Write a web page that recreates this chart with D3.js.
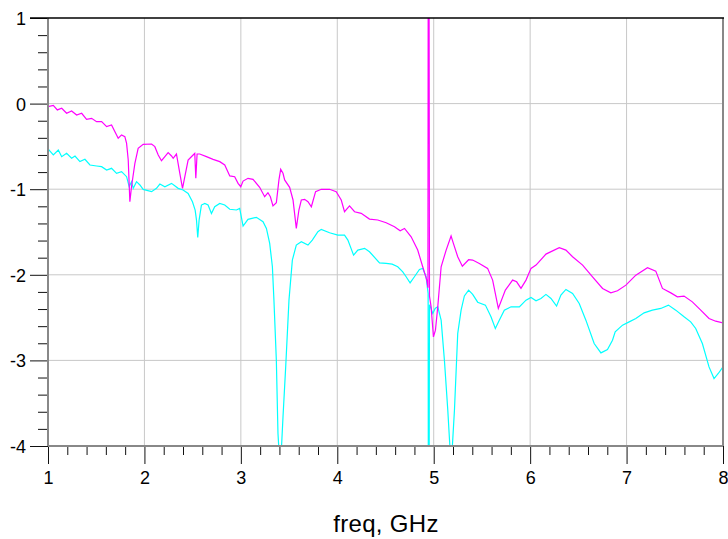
<!DOCTYPE html>
<html><head><meta charset="utf-8">
<script src="https://cdn.jsdelivr.net/npm/d3@7"></script>
<style>body{margin:0;background:#fff}svg{display:block}</style>
</head><body>
<svg id="chart" width="728" height="539"></svg>
<script>
const xTicks = [1,2,3,4,5,6,7,8];
const yTicks = [1,0,-1,-2,-3,-4];
const xLabel = "freq, GHz";

const magFreq = [1.000,1.055,1.097,1.142,1.193,1.245,1.297,1.349,1.400,1.452,1.504,1.556,1.608,1.659,1.728,1.763,1.797,1.815,1.832,1.849,1.866,1.901,1.935,1.987,2.074,2.108,2.143,2.177,2.212,2.246,2.281,2.298,2.332,2.367,2.395,2.419,2.453,2.505,2.522,2.533,2.546,2.574,2.643,2.712,2.781,2.833,2.885,2.936,2.971,2.999,3.023,3.074,3.126,3.195,3.247,3.281,3.306,3.333,3.368,3.395,3.413,3.437,3.454,3.506,3.541,3.575,3.602,3.627,3.661,3.696,3.731,3.775,3.834,3.920,3.989,4.041,4.075,4.127,4.179,4.248,4.334,4.420,4.507,4.593,4.652,4.697,4.766,4.834,4.886,4.928,4.940,4.944,4.950,4.956,4.973,4.997,5.018,5.042,5.077,5.129,5.180,5.204,5.249,5.297,5.362,5.404,5.473,5.559,5.611,5.670,5.743,5.818,5.860,5.905,5.957,6.009,6.061,6.164,6.302,6.371,6.440,6.544,6.647,6.751,6.837,6.906,6.993,7.096,7.217,7.303,7.372,7.459,7.527,7.596,7.682,7.769,7.855,7.924,8.000];
const magVal = [-0.035,-0.02,-0.074,-0.055,-0.113,-0.086,-0.133,-0.113,-0.183,-0.172,-0.211,-0.211,-0.269,-0.25,-0.405,-0.366,-0.386,-0.464,-0.659,-1.146,-0.971,-0.698,-0.522,-0.476,-0.472,-0.503,-0.600,-0.667,-0.620,-0.573,-0.612,-0.639,-0.589,-0.815,-0.990,-0.854,-0.659,-0.600,-0.581,-0.873,-0.589,-0.589,-0.620,-0.651,-0.678,-0.717,-0.845,-0.854,-0.932,-0.971,-0.905,-0.873,-0.885,-0.978,-1.088,-1.041,-1.088,-1.196,-1.158,-0.892,-0.768,-0.814,-0.892,-0.978,-1.126,-1.458,-1.243,-1.126,-1.118,-1.146,-1.205,-1.029,-1.001,-1.001,-1.029,-1.126,-1.263,-1.196,-1.263,-1.282,-1.349,-1.360,-1.392,-1.439,-1.485,-1.458,-1.556,-1.711,-1.906,-2.062,-2.15,3.0,3.0,-2.25,-2.374,-2.725,-2.647,-2.374,-1.906,-1.711,-1.547,-1.633,-1.789,-1.900,-1.824,-1.828,-1.867,-1.925,-2.062,-2.393,-2.179,-2.062,-2.082,-2.159,-2.062,-1.925,-1.887,-1.758,-1.684,-1.711,-1.789,-1.887,-2.023,-2.159,-2.211,-2.187,-2.121,-2.004,-1.918,-1.957,-2.159,-2.211,-2.257,-2.249,-2.316,-2.413,-2.510,-2.542,-2.561];

const cyanFreq = [1.000,1.055,1.107,1.142,1.193,1.245,1.280,1.331,1.383,1.435,1.504,1.556,1.608,1.659,1.711,1.763,1.815,1.842,1.866,1.884,1.918,1.953,1.987,2.074,2.125,2.160,2.212,2.281,2.350,2.401,2.453,2.498,2.526,2.540,2.553,2.567,2.591,2.626,2.660,2.695,2.729,2.781,2.833,2.885,2.954,2.988,3.023,3.074,3.161,3.230,3.265,3.299,3.327,3.343,3.368,3.385,3.395,3.420,3.437,3.465,3.499,3.534,3.575,3.627,3.696,3.741,3.799,3.834,3.920,4.006,4.075,4.110,4.169,4.213,4.283,4.334,4.438,4.507,4.569,4.627,4.679,4.714,4.755,4.800,4.852,4.886,4.921,4.942,4.946,4.950,4.956,4.966,4.990,5.015,5.042,5.077,5.111,5.146,5.170,5.191,5.215,5.249,5.284,5.318,5.362,5.404,5.456,5.536,5.594,5.639,5.680,5.732,5.802,5.888,5.957,6.009,6.061,6.112,6.164,6.216,6.274,6.319,6.371,6.440,6.509,6.578,6.664,6.734,6.802,6.854,6.882,6.958,7.027,7.096,7.182,7.268,7.355,7.434,7.510,7.596,7.665,7.717,7.786,7.855,7.907,7.951,8.000];
const cyanVal = [-0.530,-0.600,-0.542,-0.620,-0.581,-0.639,-0.612,-0.678,-0.651,-0.717,-0.729,-0.737,-0.776,-0.756,-0.815,-0.795,-0.854,-0.971,-0.912,-0.990,-0.912,-0.951,-1.002,-1.029,-0.990,-0.940,-0.971,-0.932,-0.990,-1.010,-1.049,-1.146,-1.244,-1.361,-1.563,-1.361,-1.185,-1.166,-1.185,-1.283,-1.205,-1.166,-1.185,-1.234,-1.243,-1.224,-1.430,-1.352,-1.329,-1.380,-1.458,-1.633,-1.906,-2.296,-2.998,-3.855,-4.05,-4.05,-3.661,-3.076,-2.296,-1.828,-1.653,-1.614,-1.653,-1.594,-1.497,-1.469,-1.509,-1.536,-1.536,-1.594,-1.770,-1.711,-1.691,-1.731,-1.860,-1.867,-1.875,-1.906,-1.965,-2.023,-2.094,-2.023,-1.937,-1.925,-2.023,-2.218,-6,-6,-2.35,-2.374,-2.452,-2.393,-2.374,-2.530,-2.998,-3.583,-4.05,-4.05,-3.583,-2.686,-2.413,-2.247,-2.179,-2.228,-2.320,-2.354,-2.491,-2.627,-2.530,-2.413,-2.374,-2.374,-2.296,-2.264,-2.304,-2.276,-2.229,-2.276,-2.366,-2.237,-2.171,-2.218,-2.335,-2.530,-2.803,-2.912,-2.873,-2.764,-2.667,-2.588,-2.550,-2.510,-2.444,-2.413,-2.393,-2.354,-2.413,-2.491,-2.550,-2.627,-2.803,-3.076,-3.212,-3.153,-3.076];

const L = 48, R = 723, T = 18, B = 446;
const x = d3.scaleLinear().domain([1,8]).range([L,R]);
const y = d3.scaleLinear().domain([-4,1]).range([B,T]);
const svg = d3.select("#chart");
const font = "'Liberation Sans', Arial, sans-serif";
const fmt = d => String(d);

svg.append("defs").append("clipPath").attr("id","plotclip")
  .append("rect").attr("x",L).attr("y",T).attr("width",R-L).attr("height",B-T);

// grid
const g = svg.append("g");
g.selectAll("line.gx").data(xTicks.filter(d=>d>1&&d<8)).enter().append("line")
  .attr("x1",d=>x(d)).attr("x2",d=>x(d)).attr("y1",T).attr("y2",B)
  .attr("stroke","#c8c8c8").attr("stroke-width",1);
g.selectAll("line.gy").data(yTicks.filter(d=>d>-4&&d<1)).enter().append("line")
  .attr("x1",L).attr("x2",R).attr("y1",d=>y(d)).attr("y2",d=>y(d))
  .attr("stroke","#c8c8c8").attr("stroke-width",1);

const xMinor = d3.range(1,8.001,0.2).filter(v=>Math.abs(v-Math.round(v))>1e-6);
const yMinor = d3.range(-4,1.001,0.2).filter(v=>Math.abs(v-Math.round(v))>1e-6);

const xAxis = svg.append("g").attr("transform",`translate(0,${B})`)
  .call(d3.axisBottom(x).tickValues(xTicks).tickSize(18).tickFormat(fmt));
const xAxisMinor = svg.append("g").attr("transform",`translate(0,${B})`)
  .call(d3.axisBottom(x).tickValues(xMinor).tickSize(9).tickFormat(""));
const yAxis = svg.append("g").attr("transform",`translate(${L},0)`)
  .call(d3.axisLeft(y).tickValues(yTicks).tickSize(18).tickFormat(fmt));
const yAxisMinor = svg.append("g").attr("transform",`translate(${L},0)`)
  .call(d3.axisLeft(y).tickValues(yMinor).tickSize(10).tickFormat(""));

[xAxis,xAxisMinor,yAxis,yAxisMinor].forEach(a=>{
  a.attr("font-size",null).attr("font-family",null);
  a.select(".domain").remove();
  a.selectAll(".tick line").attr("stroke","#111").attr("stroke-width",1);
  a.selectAll("text").attr("fill","#000").style("font-family",font).style("font-size","18px");
});
xAxis.selectAll("text").attr("y",38).attr("dy",null);
yAxis.selectAll("text").attr("x",-22).attr("dy","0.36em");

// series
const mag = magFreq.map((f,i)=>[f,magVal[i]]);
const cyan = cyanFreq.map((f,i)=>[f,cyanVal[i]]);
const line = d3.line().x(d=>x(d[0])).y(d=>y(d[1]));
const plot = svg.append("g").attr("clip-path","url(#plotclip)");
plot.append("path").datum(cyan).attr("d",line).attr("fill","none")
  .attr("stroke","#00ffff").attr("stroke-width",1.2);
plot.append("path").datum(mag).attr("d",line).attr("fill","none")
  .attr("stroke","#ff00ff").attr("stroke-width",1.2);

// frame
svg.append("line").attr("x1",L).attr("x2",L).attr("y1",T).attr("y2",B).attr("stroke","#888").attr("stroke-width",2);
svg.append("line").attr("x1",L).attr("x2",R).attr("y1",B).attr("y2",B).attr("stroke","#888").attr("stroke-width",2);
svg.append("line").attr("x1",R).attr("x2",R).attr("y1",T).attr("y2",B).attr("stroke","#888").attr("stroke-width",2);
svg.append("line").attr("x1",30).attr("x2",R+1).attr("y1",T).attr("y2",T).attr("stroke","#000").attr("stroke-width",1.5);

svg.append("text").attr("x",386).attr("y",532).attr("text-anchor","middle")
  .style("font-family",font).style("font-size","24px").style("letter-spacing","0.3px")
  .attr("fill","#000").text(xLabel);
</script>
</body></html>
